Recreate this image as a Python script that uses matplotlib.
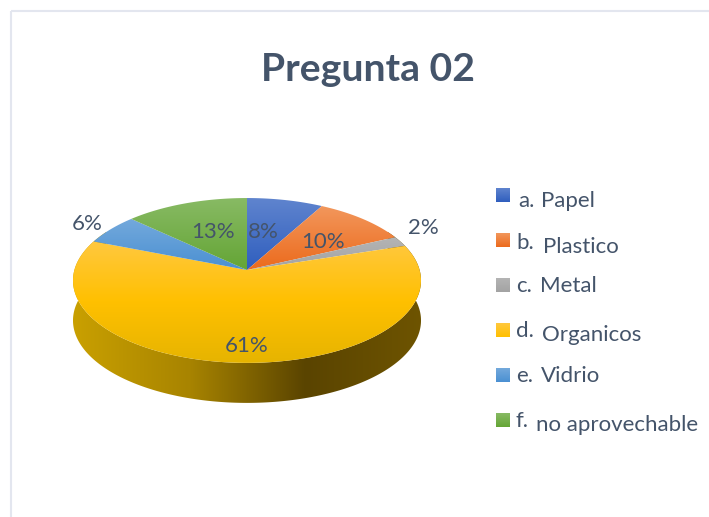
import numpy as np
import matplotlib
matplotlib.use('Agg')
import matplotlib.pyplot as plt
from matplotlib.colors import LinearSegmentedColormap
from matplotlib.patches import Polygon

# Data
letters = ['a.', 'b.', 'c.', 'd.', 'e.', 'f.']
names = ['Papel', 'Plastico', 'Metal', 'Organicos', 'Vidrio', 'no aprovechable']
percents = [8, 10, 2, 61, 6, 13]

# top-face gradients, upper to lower
slice_colors = [
    ['#5F84CE', '#2F5EBE'],
    ['#F2975C', '#EC6A1C'],
    ['#B4B4B4', '#A3A3A3'],
    ['#FFC83F', '#FFC000', '#E6B400'],
    ['#74A9DC', '#4A90D2'],
    ['#88BA64', '#64A535'],
]
side_colors = ['#C9A000', '#A88400', '#5A4400', '#6E5400']
text_color = '#44546A'

# Pie geometry in image pixels
cx, cy = 247, 270
scale_x, scale_y, persp = 172.6, 81.1, 0.127
depth = 40

# Label positions in image pixels
pct_xy = [(263, 232), (323, 242), (423, 228), (247, 346), (87, 224), (213, 232)]
# swatch top, letter x/baseline, name x/baseline
swatch_top = [188, 233, 278, 323, 368, 413]
letter_x = [518, 516, 516, 516, 516, 516]
letter_base = [207, 249, 292, 337, 382, 427]
name_x = [541, 543, 540, 542, 541, 536]
name_base = [207, 253, 292, 341, 382, 431]

plt.rcParams['font.family'] = ['Lato', 'DejaVu Sans']

fig = plt.figure(figsize=(7.09, 5.17), dpi=100)
ax = fig.add_axes([0, 0, 1, 1])
ax.set_xlim(0, 709)
ax.set_ylim(517, 0)
ax.axis('off')


def project(theta):
    # theta clockwise from top of the pie, perspective so the apex sits above the ellipse centre
    px = np.sin(theta)
    py = np.cos(theta)
    w = 1 + persp * py
    return cx + scale_x * px / w, cy - scale_y * py / w


def gradient_fill(points, colors, vertical=True):
    pts = np.array(points)
    x0, x1 = pts[:, 0].min(), pts[:, 0].max()
    y0, y1 = pts[:, 1].min(), pts[:, 1].max()
    cmap = LinearSegmentedColormap.from_list('g', colors)
    grad = np.linspace(0, 1, 256)
    grad = grad.reshape(-1, 1) if vertical else grad.reshape(1, -1)
    im = ax.imshow(grad, cmap=cmap, extent=[x0, x1, y1, y0], origin='upper',
                   aspect='auto', interpolation='bilinear')
    poly = Polygon(pts, closed=True, transform=ax.transData, facecolor='none', edgecolor='none')
    ax.add_patch(poly)
    im.set_clip_path(poly)


# Side wall
t = np.radians(np.linspace(60, 300, 300))
sx, sy = project(t)
side = np.concatenate([np.column_stack([sx, sy]), np.column_stack([sx, sy + depth])[::-1]])
gradient_fill(side, side_colors, vertical=False)

# Top face: every slice uses the gradient of its own vertical extent
edges = np.cumsum([0] + percents) / sum(percents) * 2 * np.pi
for i, pct in enumerate(percents):
    t = np.linspace(edges[i], edges[i + 1], 120)
    sx, sy = project(t)
    pts = [(cx, cy)] + list(zip(sx, sy))
    gradient_fill(pts, slice_colors[i])

for (x, y), pct in zip(pct_xy, percents):
    ax.text(x, y, f'{pct}%', color=text_color, fontsize=16, ha='center', va='center')

# Legend pieces were pasted by hand in the original, so the baselines differ
for i in range(len(names)):
    swatch = [(496, swatch_top[i]), (510, swatch_top[i]),
              (510, swatch_top[i] + 14), (496, swatch_top[i] + 14)]
    gradient_fill(swatch, slice_colors[i][:2])
    ax.text(letter_x[i], letter_base[i], letters[i], color=text_color, fontsize=16,
            ha='left', va='baseline')
    ax.text(name_x[i], name_base[i], names[i], color=text_color, fontsize=16,
            ha='left', va='baseline')

ax.text(368, 81, 'Pregunta 02', color=text_color, fontsize=28.2, fontweight='bold',
        ha='center', va='baseline')

# Frame, top and left only
ax.plot([10.5, 709], [11, 11], color='#E3E6EF', lw=1.5, solid_capstyle='butt')
ax.plot([10.5, 10.5], [11, 517], color='#E3E6EF', lw=1.5, solid_capstyle='butt')

ax.set_xlim(0, 709)
ax.set_ylim(517, 0)
fig.savefig('out.png', dpi=100)
